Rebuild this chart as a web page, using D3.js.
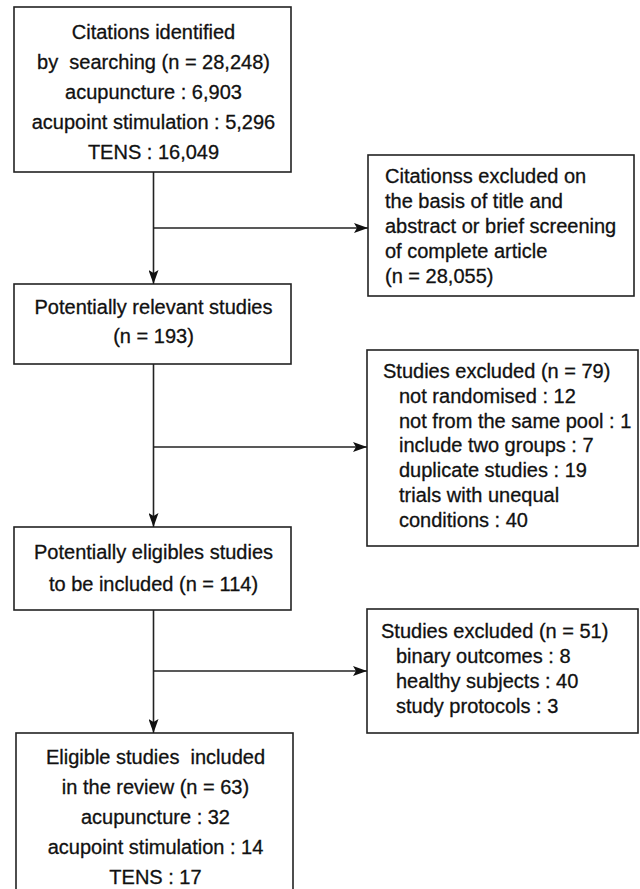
<!DOCTYPE html>
<html>
<head>
<meta charset="utf-8">
<script src="https://cdn.jsdelivr.net/npm/d3@7"></script>
<style>
  html, body { margin: 0; padding: 0; background: #fff; }
  svg { display: block; }
  text { font-family: "Liberation Sans", Arial, sans-serif; font-size: 20px; fill: #111; stroke: #111; stroke-width: 0.3px; white-space: pre; }
</style>
</head>
<body>
<div id="chart"></div>
<script>
// ---- data (text content of the flow diagram) ----
const searchLines = ["Citations identified", "by  searching (n = 28,248)", "acupuncture : 6,903", "acupoint stimulation : 5,296", "TENS : 16,049"];
const excludedTitleLines = ["Citationss excluded on", "the basis of title and", "abstract or brief screening", "of complete article", "(n = 28,055)"];
const relevantLines = ["Potentially relevant studies", "(n = 193)"];
const excluded79Head = ["Studies excluded (n = 79)"];
const excluded79Items = ["not randomised : 12", "not from the same pool : 1", "include two groups : 7", "duplicate studies : 19", "trials with unequal", "conditions : 40"];
const eligibleLines = ["Potentially eligibles studies", "to be included (n = 114)"];
const excluded51Head = ["Studies excluded (n = 51)"];
const excluded51Items = ["binary outcomes : 8", "healthy subjects : 40", "study protocols : 3"];
const includedLines = ["Eligible studies  included", "in the review (n = 63)", "acupuncture : 32", "acupoint stimulation : 14", "TENS : 17"];

// ---- layout ----
const W = 640, H = 889;
const svg = d3.select("#chart").append("svg").attr("width", W).attr("height", H);

const stroke = "#222";
svg.append("defs").append("marker")
  .attr("id", "arrow")
  .attr("markerUnits", "userSpaceOnUse")
  .attr("viewBox", "0 0 14 10")
  .attr("refX", 14).attr("refY", 5)
  .attr("markerWidth", 14).attr("markerHeight", 10)
  .attr("orient", "auto")
  .append("path").attr("d", "M0,0 L14,5 L0,10 L3,5 Z").attr("fill", "#111");

const leftBoxes = [
  {x: 14, y: 7,   w: 277, h: 165, lines: searchLines,   first: 39,  step: 30},
  {x: 14, y: 284, w: 277, h: 80,  lines: relevantLines, first: 314, step: 29},
  {x: 14, y: 527, w: 277, h: 83,  lines: eligibleLines, first: 559, step: 32},
  {x: 16, y: 733, w: 277, h: 170, lines: includedLines, first: 764, step: 30}
];
const rightBoxes = [
  {x: 368, y: 155, w: 266, h: 141, groups: [{lines: excludedTitleLines, x: 385}], first: 183, step: 25},
  {x: 367, y: 350, w: 271, h: 196, groups: [{lines: excluded79Head, x: 383}, {lines: excluded79Items, x: 399}], first: 378, step: 24.8},
  {x: 367, y: 609, w: 271, h: 124, groups: [{lines: excluded51Head, x: 381}, {lines: excluded51Items, x: 396}], first: 638, step: 25}
];

function drawRect(b) {
  svg.append("rect").attr("x", b.x).attr("y", b.y).attr("width", b.w).attr("height", b.h)
    .attr("fill", "#fff").attr("stroke", stroke).attr("stroke-width", 1.6);
}

leftBoxes.forEach(b => {
  drawRect(b);
  svg.append("g").selectAll("text").data(b.lines).join("text")
    .attr("x", b.x + b.w / 2 + 1)
    .attr("y", (d, i) => b.first + i * b.step)
    .attr("text-anchor", "middle")
    .text(d => d);
});

rightBoxes.forEach(b => {
  drawRect(b);
  let k = 0;
  b.groups.forEach(g => {
    g.lines.forEach(line => {
      svg.append("text").attr("x", g.x).attr("y", b.first + k * b.step).text(line);
      k++;
    });
  });
});

// connectors
const cx = 153.5;
const links = [
  {from: leftBoxes[0], to: leftBoxes[1], branchY: 228, side: rightBoxes[0]},
  {from: leftBoxes[1], to: leftBoxes[2], branchY: 447, side: rightBoxes[1]},
  {from: leftBoxes[2], to: leftBoxes[3], branchY: 671, side: rightBoxes[2]}
];
links.forEach(l => {
  svg.append("line").attr("x1", cx).attr("x2", cx)
    .attr("y1", l.from.y + l.from.h).attr("y2", l.to.y)
    .attr("stroke", stroke).attr("stroke-width", 1.6).attr("marker-end", "url(#arrow)");
  svg.append("line").attr("x1", cx).attr("x2", l.side.x)
    .attr("y1", l.branchY).attr("y2", l.branchY)
    .attr("stroke", stroke).attr("stroke-width", 1.6).attr("marker-end", "url(#arrow)");
});
</script>
</body>
</html>
